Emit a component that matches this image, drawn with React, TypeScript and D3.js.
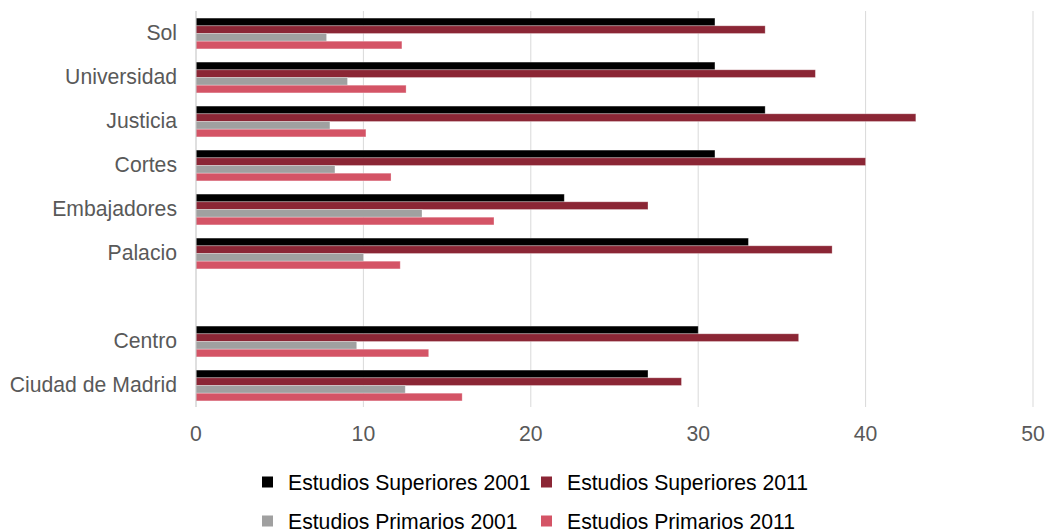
import React from "react";
import * as d3 from "d3";

const categories = ["Sol", "Universidad", "Justicia", "Cortes", "Embajadores", "Palacio", "", "Centro", "Ciudad de Madrid"];
const superiores2001 = [31, 31, 34, 31, 22, 33, null, 30, 27];
const superiores2011 = [34, 37, 43, 40, 27, 38, null, 36, 29];
const primarios2001 = [7.8, 9.05, 8.0, 8.3, 13.5, 10.0, null, 9.6, 12.5];
const primarios2011 = [12.3, 12.55, 10.15, 11.65, 17.8, 12.2, null, 13.9, 15.9];
const seriesNames = ["Estudios Superiores 2001", "Estudios Superiores 2011", "Estudios Primarios 2001", "Estudios Primarios 2011"];
const seriesColors = ["#000000", "#8B2635", "#A0A0A0", "#D45466"];
const xTicks = [0, 10, 20, 30, 40, 50];

const W = 1049;
const H = 529;

export default function App() {
  const seriesValues = [superiores2001, superiores2011, primarios2001, primarios2011];
  const x = d3.scaleLinear().domain([0, 50]).range([196, 1033]);
  const keys = categories.map((c, i) => `${i}:${c}`);
  const y = d3.scaleBand<string>().domain(keys).range([11.5, 407.5]).paddingInner(0.3).paddingOuter(0.15);
  const inner = d3.scaleBand<number>().domain([0, 1, 2, 3]).range([0, y.bandwidth()]);
  const font = "'Liberation Sans', Arial, sans-serif";
  const textColor = "#595959";
  const fs = 21.2;

  return (
    <svg width={W} height={H} style={{ position: "absolute", left: 0, top: 0 }} fontFamily={font}>
      <rect width={W} height={H} fill="#fff" />
      {xTicks.slice(1).map((t) => (
        <line key={t} x1={x(t)} x2={x(t)} y1={11} y2={407} stroke="#D9D9D9" strokeWidth={1} />
      ))}
      {keys.map((k, ci) =>
        seriesValues.map((vals, si) => {
          const v = vals[ci];
          if (v == null) return null;
          return (
            <rect
              key={`${k}-${si}`}
              x={x(0)}
              y={(y(k) as number) + (inner(si) as number)}
              width={x(v) - x(0)}
              height={inner.bandwidth()}
              fill={seriesColors[si]}
              stroke="#ffffff"
              strokeOpacity={0.35}
              strokeWidth={0.8}
            />
          );
        })
      )}
      <line x1={x(0)} x2={x(0)} y1={11} y2={407} stroke="#BFBFBF" strokeWidth={1} />
      {keys.map((k, ci) => (
        <text
          key={k}
          x={177}
          y={(y(k) as number) + y.bandwidth() / 2 - 1}
          textAnchor="end"
          dominantBaseline="central"
          fontSize={fs}
          fill={textColor}
        >
          {categories[ci]}
        </text>
      ))}
      {xTicks.map((t) => (
        <text key={t} x={x(t)} y={433} textAnchor="middle" dominantBaseline="central" fontSize={fs} fill={textColor}>
          {t}
        </text>
      ))}
      {seriesNames.map((name, i) => {
        const col = i % 2;
        const row = Math.floor(i / 2);
        const mx = col === 0 ? 262 : 541;
        const cy = row === 0 ? 482 : 521;
        return (
          <g key={name}>
            <rect x={mx} y={cy - 5.5} width={11} height={11} fill={seriesColors[i]} />
            <text x={mx + 26} y={cy} dominantBaseline="central" fontSize={fs} fill="#000">
              {name}
            </text>
          </g>
        );
      })}
    </svg>
  );
}
